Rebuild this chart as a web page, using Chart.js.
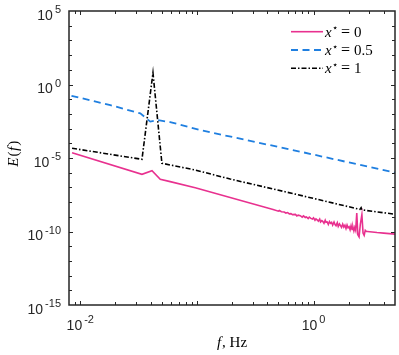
<!DOCTYPE html>
<html>
<head>
<meta charset="utf-8">
<script src="https://cdn.jsdelivr.net/npm/chart.js@4"></script>
<style>
  html, body { margin: 0; padding: 0; background: #fff; }
</style>
</head>
<body>
<canvas id="SpectrumChart" width="399" height="355"></canvas>
<script>
// x* = 0 (solid pink)
const freqX0 = [0.0085, 0.0338, 0.0412, 0.0485, 0.059, 0.0968, 0.45, 0.5, 0.51, 0.53, 0.56, 0.58, 0.6, 0.62, 0.64, 0.66,
  0.7, 0.72, 0.74, 0.77, 0.8, 0.82, 0.85, 0.87, 0.9, 0.92, 0.95, 0.98, 1.0, 1.03, 1.05, 1.08, 1.1, 1.13, 1.15, 1.18,
  1.2, 1.23, 1.26, 1.28, 1.31, 1.34, 1.37, 1.4, 1.43, 1.46, 1.5, 1.53, 1.56, 1.6, 1.63, 1.67, 1.7, 1.74, 1.78, 1.82,
  1.86, 1.9, 1.94, 1.98, 2.02, 2.06, 2.1, 2.14, 2.18, 2.22, 2.26, 2.3, 2.35, 2.4, 2.46, 2.52, 2.6, 2.66, 2.72, 2.78,
  2.85, 2.9, 3.5, 4.0, 5.0];
const energyX0 = [2.3e-5, 7.8e-7, 1.38e-6, 3.55e-7, 2.46e-7, 9.5e-8, 3.1e-9, 2.4e-9, 2.7e-9, 2.2e-9, 2.1e-9, 1.8e-9, 1.95e-9, 1.6e-9, 1.65e-9, 1.4e-9,
  1.45e-9, 1.15e-9, 1.3e-9, 1.2e-9, 0.95e-9, 1.15e-9, 0.9e-9, 0.98e-9, 0.75e-9, 0.95e-9, 0.78e-9, 0.7e-9, 0.85e-9, 0.58e-9, 0.72e-9, 0.6e-9, 0.5e-9, 0.7e-9, 0.45e-9, 0.55e-9,
  0.5e-9, 0.36e-9, 0.58e-9, 0.42e-9, 0.45e-9, 0.3e-9, 0.48e-9, 0.36e-9, 0.42e-9, 0.27e-9, 0.44e-9, 0.3e-9, 0.25e-9, 0.4e-9, 0.22e-9, 0.33e-9, 0.26e-9, 0.19e-9, 0.32e-9, 0.2e-9,
  0.27e-9, 0.16e-9, 0.28e-9, 0.18e-9, 0.21e-9, 0.13e-9, 0.25e-9, 0.14e-9, 0.2e-9, 0.11e-9, 0.19e-9, 0.12e-9, 1.8e-9, 0.06e-9, 0.043e-9, 0.3e-9, 1.4e-9, 0.08e-9, 0.055e-9, 0.12e-9,
  1.0e-10, 1.0e-10, 8.5e-11, 7.8e-11, 6.6e-11];

// x* = 0.5 (dashed blue)
const freqX05 = [0.0084, 0.0181, 0.0327, 0.0398, 0.0457, 0.059, 0.107, 0.77, 5.0];
const energyX05 = [0.17, 0.0396, 0.0108, 0.0030, 0.0038, 0.00277, 7.9e-4, 2.7e-5, 1.0e-6];

// x* = 1 (dash-dot black)
const freqX1 = [0.0085, 0.0338, 0.042, 0.0501, 0.059, 0.0968, 0.193, 0.697, 2.5, 2.56, 2.6, 5.0];
const energyX1 = [4.6e-5, 8.1e-6, 6.2, 4.4e-6, 3.35e-6, 1.53e-6, 3.7e-7, 3.5e-8, 3.2e-9, 4.2e-9, 2.95e-9, 1.5e-9];

const seriesLabels = ['0', '0.5', '1'];
const seriesColors = ['#e8318f', '#1f7fe0', '#000000'];
const seriesDashes = [[], [7, 4.5], [5, 2, 1.5, 2]];

const xMajorTicks = [0.01, 1];
const xMajorExps = ['-2', '0'];
const yMajorTicks = [1e-15, 1e-10, 1e-5, 1, 1e5];
const yMajorExps = ['-15', '-10', '-5', '0', '5'];

function toPoints(xs, ys) {
  return xs.map((x, i) => ({ x: x, y: ys[i] }));
}

function drawPower(ctx, exp, x, baseY, align) {
  ctx.font = '14px "Liberation Sans", Arial, sans-serif';
  let baseW = ctx.measureText('10').width;
  ctx.font = '11px "Liberation Sans", Arial, sans-serif';
  let expW = ctx.measureText(exp).width;
  let total = baseW + 2 + expW;
  let start = align === 'right' ? x - total : x - total / 2;
  ctx.textAlign = 'left';
  ctx.textBaseline = 'alphabetic';
  ctx.font = '14px "Liberation Sans", Arial, sans-serif';
  ctx.fillText('10', start, baseY);
  ctx.font = '11px "Liberation Sans", Arial, sans-serif';
  ctx.fillText(exp, start + baseW + 2, baseY - 6.5);
}

const axesPlugin = {
  id: 'matlabAxes',
  afterDraw(chart) {
    const ctx = chart.ctx;
    const area = chart.chartArea;
    const xs = chart.scales.x;
    const ys = chart.scales.y;
    ctx.save();
    ctx.strokeStyle = '#262626';
    ctx.fillStyle = '#262626';
    ctx.lineWidth = 1;

    // minor + major ticks, inward on all four sides
    ctx.beginPath();
    for (let d = -3; d <= 1; d++) {
      for (let m = 1; m <= 9; m++) {
        let v = m * Math.pow(10, d);
        if (v <= xs.min * 1.001 || v >= xs.max * 0.999) continue;
        let px = Math.round(xs.getPixelForValue(v)) + 0.5;
        let len = m === 1 ? 4 : 3;
        ctx.moveTo(px, area.bottom); ctx.lineTo(px, area.bottom - len);
        ctx.moveTo(px, area.top); ctx.lineTo(px, area.top + len);
      }
    }
    for (let d = -14; d <= 4; d++) {
      let v = Math.pow(10, d);
      let py = Math.round(ys.getPixelForValue(v)) + 0.5;
      let len = d % 5 === 0 ? 4 : 3;
      ctx.moveTo(area.left, py); ctx.lineTo(area.left + len, py);
      ctx.moveTo(area.right, py); ctx.lineTo(area.right - len, py);
    }
    ctx.stroke();

    // box
    ctx.lineWidth = 1.5;
    ctx.strokeRect(area.left, area.top, area.right - area.left, area.bottom - area.top);

    // tick labels
    ctx.fillStyle = '#262626';
    for (let i = 0; i < yMajorTicks.length; i++) {
      let py = ys.getPixelForValue(yMajorTicks[i]);
      drawPower(ctx, yMajorExps[i], 61, py + 8.5, 'right');
    }
    for (let i = 0; i < xMajorTicks.length; i++) {
      let px = xs.getPixelForValue(xMajorTicks[i]);
      drawPower(ctx, xMajorExps[i], px, 329.5, 'center');
    }

    // axis titles
    ctx.fillStyle = '#000';
    ctx.textBaseline = 'middle';
    ctx.save();
    ctx.translate(14, 154);
    ctx.rotate(-Math.PI / 2);
    ctx.textAlign = 'left';
    ctx.font = 'italic 15px "Liberation Serif", serif';
    let wE = ctx.measureText('E').width;
    ctx.font = '15px "Liberation Serif", serif';
    let wP = ctx.measureText('(').width;
    ctx.font = 'italic 15px "Liberation Serif", serif';
    let wF = ctx.measureText('f').width + 1;
    let tot = wE + wP * 2 + wF + 1;
    let sx = -tot / 2;
    ctx.fillText('E', sx, 0);
    ctx.font = '15px "Liberation Serif", serif';
    ctx.fillText('(', sx + wE + 1, 0);
    ctx.font = 'italic 15px "Liberation Serif", serif';
    ctx.fillText('f', sx + wE + 1 + wP + 0.5, 0);
    ctx.font = '15px "Liberation Serif", serif';
    ctx.fillText(')', sx + wE + 1 + wP + wF + 0.5, 0);
    ctx.restore();

    ctx.font = 'italic 15px "Liberation Serif", serif';
    let wf = ctx.measureText('f').width + 1;
    ctx.font = '15px "Liberation Serif", serif';
    let wHz = ctx.measureText(', Hz').width;
    let cx = (area.left + area.right) / 2 - (wf + wHz) / 2;
    ctx.textAlign = 'left';
    ctx.font = 'italic 15px "Liberation Serif", serif';
    ctx.fillText('f', cx, 343);
    ctx.font = '15px "Liberation Serif", serif';
    ctx.fillText(', Hz', cx + wf, 343);

    // legend
    const rows = [31.7, 50, 68.3];
    for (let i = 0; i < rows.length; i++) {
      let y = rows[i];
      ctx.beginPath();
      ctx.setLineDash(seriesDashes[i]);
      ctx.strokeStyle = seriesColors[i];
      ctx.lineWidth = i === 1 ? 1.8 : 1.6;
      ctx.moveTo(291, y); ctx.lineTo(323, y);
      ctx.stroke();
      ctx.setLineDash([]);
      ctx.fillStyle = '#000';
      ctx.textBaseline = 'alphabetic';
      ctx.font = 'italic 15px "Liberation Serif", serif';
      ctx.fillText('x', 325, y + 5);
      ctx.font = '10px "DejaVu Sans", sans-serif';
      ctx.fillText('\u22C6', 332, y - 0.5);
      ctx.font = '16px "Liberation Serif", serif';
      ctx.fillText('=', 341, y + 5);
      ctx.font = '15px "Liberation Serif", serif';
      ctx.fillText(seriesLabels[i], 354, y + 5);
    }
    ctx.restore();
  }
};

const config = {
  type: 'line',
  data: {
    datasets: [
      { label: 'x* = 0', data: toPoints(freqX0, energyX0), borderColor: seriesColors[0], borderWidth: 1.6, borderDash: seriesDashes[0] },
      { label: 'x* = 0.5', data: toPoints(freqX05, energyX05), borderColor: seriesColors[1], borderWidth: 1.8, borderDash: seriesDashes[1] },
      { label: 'x* = 1', data: toPoints(freqX1, energyX1), borderColor: seriesColors[2], borderWidth: 1.6, borderDash: seriesDashes[2] }
    ]
  },
  options: {
    responsive: false,
    animation: false,
    devicePixelRatio: 1,
    layout: { padding: { left: 69, top: 11, right: 4, bottom: 50 } },
    elements: { point: { radius: 0 }, line: { tension: 0, borderJoinStyle: 'miter' } },
    plugins: { legend: { display: false }, tooltip: { enabled: false } },
    scales: {
      x: { type: 'logarithmic', min: 0.008, max: 5, display: false },
      y: { type: 'logarithmic', min: 1e-15, max: 1e5, display: false }
    }
  },
  plugins: [axesPlugin]
};

new Chart(document.getElementById('SpectrumChart'), config);
</script>
</body>
</html>
